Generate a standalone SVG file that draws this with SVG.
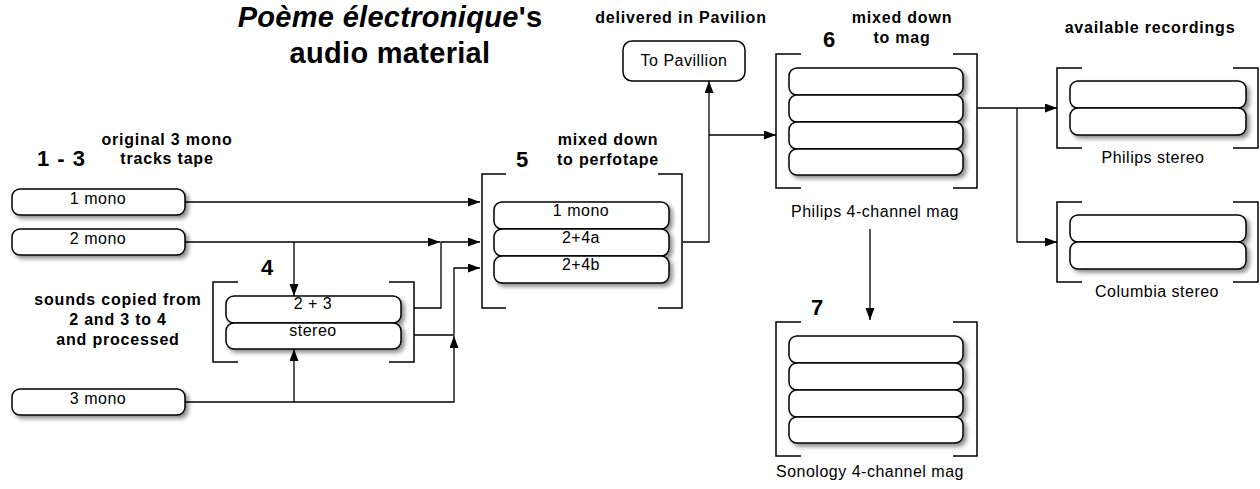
<svg xmlns="http://www.w3.org/2000/svg" width="1260" height="489" viewBox="0 0 1260 489">
<defs>
<style>
.t{font-family:"Liberation Sans",Arial,Helvetica,sans-serif;font-size:16px;letter-spacing:0.5px;fill:#000;text-anchor:middle}
.b{font-family:"Liberation Sans",Arial,Helvetica,sans-serif;font-size:16px;font-weight:bold;letter-spacing:0.8px;fill:#000;text-anchor:middle}
.n{font-family:"Liberation Sans",Arial,Helvetica,sans-serif;font-size:22px;font-weight:bold;letter-spacing:1px;fill:#000}
.ti{font-family:"Liberation Sans",Arial,Helvetica,sans-serif;font-size:29px;font-weight:bold;letter-spacing:0.3px;fill:#000;text-anchor:middle}
.box{fill:#fff;stroke:#000;stroke-width:1.5}
.br{fill:none;stroke:#000;stroke-width:1.5}
.c{fill:none;stroke:#000;stroke-width:1.3}
</style>
<filter id="sh" x="-10%" y="-20%" width="130%" height="160%">
<feDropShadow dx="3" dy="3" stdDeviation="2" flood-color="#000" flood-opacity="0.45"/>
</filter>
<marker id="ar" markerUnits="userSpaceOnUse" markerWidth="13" markerHeight="10" refX="12" refY="4.5" orient="auto">
<path d="M0,0 L12,4.5 L0,9 z" fill="#000"/>
</marker>
</defs>
<rect width="1260" height="489" fill="#fff"/>

<g id="title">
<text class="ti" x="390" y="27"><tspan font-style="italic">Poème électronique</tspan>'s</text>
<text class="ti" x="390" y="63">audio material</text>
</g>

<g id="tape13">
<text class="n" x="37" y="166">1 - 3</text>
<text class="b" x="167" y="145">original 3 mono</text>
<text class="b" x="167" y="164">tracks tape</text>
</g>

<g id="mono1">
<rect class="box" x="12" y="189" width="173" height="26" rx="8" filter="url(#sh)"/>
<text class="t" x="98" y="204">1 mono</text>
</g>
<g id="mono2">
<rect class="box" x="12" y="229" width="173" height="26" rx="8" filter="url(#sh)"/>
<text class="t" x="98" y="244">2 mono</text>
</g>
<g id="mono3">
<rect class="box" x="12" y="389" width="173" height="26" rx="8" filter="url(#sh)"/>
<text class="t" x="98" y="404">3 mono</text>
</g>

<g id="track4">
<text class="n" x="261" y="275">4</text>
<text class="b" x="118" y="305">sounds copied from</text>
<text class="b" x="118" y="325">2 and 3 to 4</text>
<text class="b" x="118" y="345">and processed</text>
<path class="br" d="M238,282 H213 V362 H238 M389,282 H414 V362 H389"/>
<g filter="url(#sh)">
<rect class="box" x="226" y="296" width="175" height="27" rx="8"/>
<rect class="box" x="226" y="323" width="175" height="26" rx="8"/>
</g>
<text class="t" x="313" y="309">2 + 3</text>
<text class="t" x="313" y="336">stereo</text>
</g>

<g id="track5">
<text class="n" x="516" y="167">5</text>
<text class="b" x="608" y="145">mixed down</text>
<text class="b" x="608" y="165">to perfotape</text>
<path class="br" d="M506,174 H482 V308 H506 M658,174 H682 V308 H658"/>
<g filter="url(#sh)">
<rect class="box" x="494" y="202" width="175" height="27" rx="8"/>
<rect class="box" x="494" y="229" width="175" height="27" rx="8"/>
<rect class="box" x="494" y="256" width="175" height="27" rx="8"/>
</g>
<text class="t" x="581" y="216">1 mono</text>
<text class="t" x="581" y="243">2+4a</text>
<text class="t" x="581" y="270">2+4b</text>
</g>

<g id="pavilion">
<text class="b" x="681" y="23">delivered in Pavilion</text>
<rect class="box" x="623" y="41" width="122" height="40" rx="9"/>
<text class="t" x="684" y="66">To Pavillion</text>
</g>

<g id="track6">
<text class="n" x="823" y="47">6</text>
<text class="b" x="902" y="23">mixed down</text>
<text class="b" x="902" y="43">to mag</text>
<path class="br" d="M801,54 H776 V188 H801 M953,54 H977 V188 H953"/>
<g filter="url(#sh)">
<rect class="box" x="789" y="68" width="174" height="27" rx="8"/>
<rect class="box" x="789" y="95" width="174" height="27" rx="8"/>
<rect class="box" x="789" y="122" width="174" height="27" rx="8"/>
<rect class="box" x="789" y="149" width="174" height="26" rx="8"/>
</g>
<text class="t" x="875" y="217">Philips 4-channel mag</text>
</g>

<g id="track7">
<text class="n" x="811" y="315">7</text>
<path class="br" d="M801,322 H776 V456 H801 M953,322 H977 V456 H953"/>
<g filter="url(#sh)">
<rect class="box" x="789" y="336" width="174" height="27" rx="8"/>
<rect class="box" x="789" y="363" width="174" height="27" rx="8"/>
<rect class="box" x="789" y="390" width="174" height="27" rx="8"/>
<rect class="box" x="789" y="417" width="174" height="26" rx="8"/>
</g>
<text class="t" x="870" y="477">Sonology 4-channel mag</text>
</g>

<g id="recordings">
<text class="b" x="1150" y="33">available recordings</text>
</g>

<g id="philipsStereo">
<path class="br" d="M1082,68 H1057 V148 H1082 M1233,68 H1258 V148 H1233"/>
<g filter="url(#sh)">
<rect class="box" x="1070" y="81" width="176" height="27" rx="8"/>
<rect class="box" x="1070" y="108" width="176" height="27" rx="8"/>
</g>
<text class="t" x="1153" y="163">Philips stereo</text>
</g>

<g id="columbiaStereo">
<path class="br" d="M1082,202 H1057 V282 H1082 M1233,202 H1258 V282 H1233"/>
<g filter="url(#sh)">
<rect class="box" x="1070" y="215" width="176" height="27" rx="8"/>
<rect class="box" x="1070" y="242" width="176" height="27" rx="8"/>
</g>
<text class="t" x="1157" y="297">Columbia stereo</text>
</g>

<g id="connectors">
<path class="c" d="M185,202 H480" marker-end="url(#ar)"/>
<path class="c" d="M185,242 H440" marker-end="url(#ar)"/>
<path class="c" d="M294,242 V296" marker-end="url(#ar)"/>
<path class="c" d="M185,402 H454 V336" marker-end="url(#ar)"/>
<path class="c" d="M294,402 V349" marker-end="url(#ar)"/>
<path class="c" d="M414,308 H441 V242 H480" marker-end="url(#ar)"/>
<path class="c" d="M414,335 H454 V268 H480" marker-end="url(#ar)"/>
<path class="c" d="M683,242 H709 V81" marker-end="url(#ar)"/>
<path class="c" d="M709,135 H776" marker-end="url(#ar)"/>
<path class="c" d="M977,108 H1057" marker-end="url(#ar)"/>
<path class="c" d="M1017,108 V242 H1057" marker-end="url(#ar)"/>
<path class="c" d="M870,229 V320" marker-end="url(#ar)"/>
</g>
</svg>
